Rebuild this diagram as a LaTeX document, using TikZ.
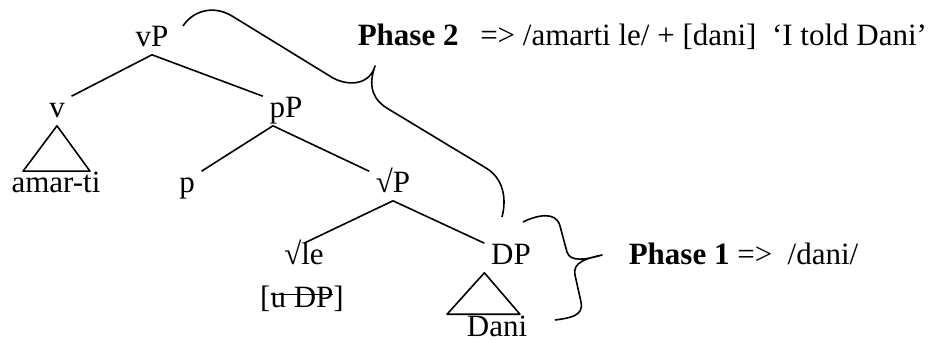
\documentclass[tikz,border=0pt]{standalone}
\usepackage{fontspec}
\setmainfont{Liberation Serif}

\newsavebox\strikebox
\newcommand\strikeout[1]{\sbox\strikebox{#1}\rlap{\rule[0.38em]{\wd\strikebox}{1.2pt}}\usebox\strikebox}

\begin{document}
\begin{tikzpicture}[x=1pt,y=-1pt,line width=1.6pt,line join=round,
    font=\fontsize{31}{37}\selectfont,
    tn/.style={anchor=base,inner sep=6pt,text height=15pt,text depth=1pt}]
      \useasboundingbox (0,0) rectangle (946,342);
      \draw
        (152,47) node[tn] (vP){vP}
        (57,118) node[tn] (v){v}
        (286,118) node[tn] (pP){pP}
        (56,193) node[tn] (amarti){amar-ti}
        (187,193) node[tn] (p){p}
        (393,193) node[tn] (rootP){√P}
        (304,265) node[tn] (rootle){√le}
        (302,307) node[tn] (uDP){[\strikeout{u DP}]}
        (511,265) node[tn] (DP){DP}
        (497,336) node[tn] (Dani){Dani}
        (357,46) node[anchor=base west,inner sep=0pt] (phase2){\textbf{Phase 2}\hspace{0.7em}=> /amarti le/ + [dani]\ \ ‘I told Dani’}
        (628,265) node[anchor=base west,inner sep=0pt] (phase1){\textbf{Phase 1} => \ /dani/};
      \begin{scope}[-]
        \draw (vP.south) to (v.north east);
        \draw (vP.south) to (pP.north west);
        \draw ([xshift=-13pt]pP.south) to (p.north east);
        \draw ([xshift=-13pt]pP.south) to (rootP.north west);
        \draw (rootP.south) to (rootle.north);
        \draw (rootP.south) to (DP.north west);
        \draw (v.south) -- ([xshift=-33pt]amarti.north) -- ([xshift=34pt]amarti.north) -- cycle;
        \draw (DP.south west) -- ([xshift=-13pt]Dani.north west) -- ([xshift=-14pt]Dani.north east) -- cycle;
      \end{scope}
      % braces
      \draw (183,26) .. controls (192,12) and (212,4) .. (232,16) -- (333,78)
        .. controls (350,87) and (370,84) .. (375,66)
        .. controls (368,86) and (372,100) .. (390,110) -- (486,168)
        .. controls (503,178) and (507,198) .. (502,217);
      \draw (523,222) .. controls (535,216) and (556,210) .. (560,226) -- (567,252)
        .. controls (570,262) and (585,260) .. (602,255)
        .. controls (588,258) and (572,262) .. (575,275) -- (581,302)
        .. controls (584,316) and (570,318) .. (555,320);
    \end{tikzpicture}
\end{document}
